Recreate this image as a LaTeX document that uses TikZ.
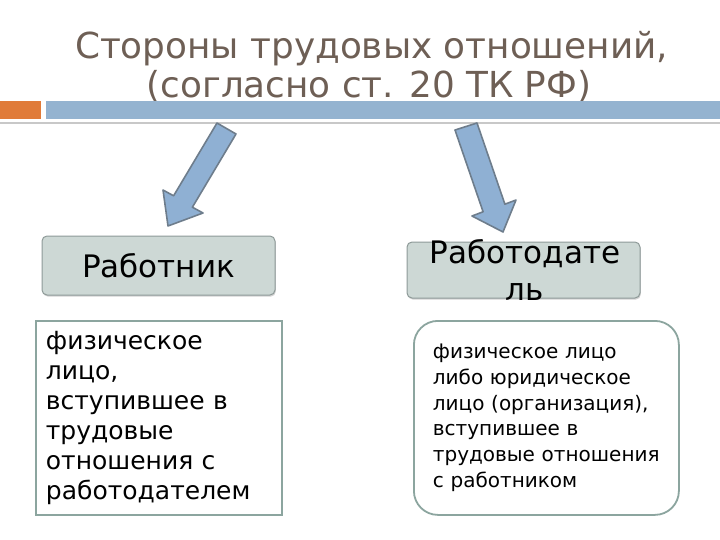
\documentclass[tikz,border=0pt]{standalone}
\usepackage{fontspec}
\setmainfont{DejaVu Sans}
\usetikzlibrary{positioning,shadows}
\definecolor{titlebrown}{HTML}{6E5F55}
\definecolor{barorange}{HTML}{E07B39}
\definecolor{barblue}{HTML}{94B3D0}
\definecolor{rulegrey}{HTML}{C8C8C8}
\definecolor{arrowfill}{HTML}{8FB0D3}
\definecolor{arrowedge}{HTML}{6E7D8C}
\definecolor{headfill}{HTML}{CDD8D5}
\definecolor{headedge}{HTML}{8E9A98}
\definecolor{boxedge}{HTML}{8CA59F}
\tikzset{
  titletext/.style={font=\fontsize{35.8}{42}\selectfont\color{titlebrown},inner sep=0pt},
  blockarrow/.style={fill=arrowfill,draw=arrowedge,line width=1.6pt,line join=round},
  headbox/.style={draw=headedge,fill=headfill,rounded corners=5pt,line width=1pt,
    minimum width=233pt,inner sep=0pt,
    drop shadow={shadow xshift=0.8pt,shadow yshift=-1.6pt,opacity=0.35}},
  headtext/.style={font=\fontsize{31}{37}\selectfont,align=center,inner sep=0pt},
  descbox/.style={draw=boxedge,fill=white,line width=1.8pt,align=left,anchor=north west},
}

\begin{document}
\begin{tikzpicture}[x=1pt,y=-1pt]
\useasboundingbox (0,0) rectangle (720,540);
% title
\node[titletext,anchor=base] (tline1) at (371.5,59) {Стороны трудовых отношений,};
\node[titletext,anchor=base] (tline2) at (369,98) {(согласно ст. 20 ТК РФ)};
% header bars
\fill[barorange] (0,101) rectangle (41,119);
\fill[barblue] (46,101) rectangle (720,119);
\draw[rulegrey,line width=2pt] (0,123) -- (720,123);
% block arrows
\draw[blockarrow] (217,123) -- (236,134) -- (192.4,207.2) -- (203,213) -- (168,226)
  -- (163,190) -- (173.6,195.8) -- cycle;
\draw[blockarrow] (477,123) -- (455,130) -- (483.1,211.8) -- (472,216) -- (503,232)
  -- (516,200) -- (504.9,204.2) -- cycle;
% the two parties
\node[headbox,minimum height=59pt] (worker) at (158.5,265.5) {};
\node[headtext] (workert) at (worker.center) {Работник};
\node[headbox,minimum height=56pt] (employer) at (523.5,270) {};
\node[headtext] (employert) at (525,270) {Работодате\\ль};
% definitions
\node[descbox,minimum width=246pt,minimum height=194pt,text width=226pt,inner xsep=10pt,
  font=\fontsize{25}{30}\selectfont] (workerdef) at (35,320)
  {физическое\\лицо,\\вступившее в\\трудовые\\отношения с\\работодателем};
\node[descbox,rounded corners=24pt,minimum width=265pt,minimum height=194pt,text width=227pt,
  inner xsep=19pt,font=\fontsize{20}{25.7}\selectfont] (employerdef) at (413,320)
  {физическое лицо\\либо юридическое\\лицо (организация),\\вступившее в\\трудовые отношения\\с работником};
\end{tikzpicture}
\end{document}
